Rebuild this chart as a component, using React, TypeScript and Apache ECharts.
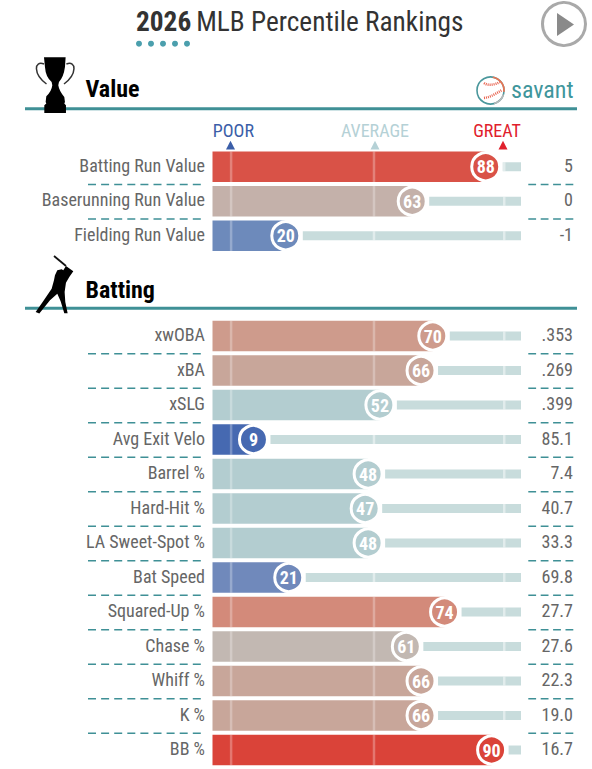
import React, { useEffect, useRef } from "react";
import * as echarts from "echarts";

const valueLabels = ["Batting Run Value", "Baserunning Run Value", "Fielding Run Value"];
const valuePercentiles = [88, 63, 20];
const valueStats = ["5", "0", "-1"];

const battingLabels = ["xwOBA", "xBA", "xSLG", "Avg Exit Velo", "Barrel %", "Hard-Hit %", "LA Sweet-Spot %", "Bat Speed", "Squared-Up %", "Chase %", "Whiff %", "K %", "BB %"];
const battingPercentiles = [70, 66, 52, 9, 48, 47, 48, 21, 74, 61, 66, 66, 90];
const battingStats = [".353", ".269", ".399", "85.1", "7.4", "40.7", "33.3", "69.8", "27.7", "27.6", "22.3", "19.0", "16.7"];

const percentileColors: Record<number, string> = {
  9: "#4669b1", 20: "#6d8abb", 21: "#7089bb", 47: "#b3cdd0", 48: "#b3cdd0", 52: "#b3cdd0",
  61: "#c2b8b2", 63: "#c4b1aa", 66: "#c8a69a", 70: "#ce9b8c", 74: "#d38a7a", 88: "#d95247", 90: "#da4339",
};
const referenceMarks = [1.4, 50, 94.3];

const FONT = '"Roboto Condensed", "Liberation Sans Narrow", Roboto, sans-serif';
const TEAL = "#3f9096";
const ROW = 34.5;
const LEFT = 212.5;
const RIGHT = 521;
const AXIS_MIN = -4.93;
const grids = [
  { top: 149.5, labels: valueLabels, pct: valuePercentiles, stats: valueStats },
  { top: 318.75, labels: battingLabels, pct: battingPercentiles, stats: battingStats },
];

echarts.graphic.registerShape("trophy", echarts.graphic.extendPath(
  "M57 16L122 16L120 45Q116 75 102 90L100 100Q103 118 118 135L120 150L118 155L123 160L123 183L58 183L58 160L64 155L62 150L64 133Q80 118 82 100L80 90Q62 75 60 45Z", {}) as any);
echarts.graphic.registerShape("batter", echarts.graphic.extendPath(
  "M108 42L130 58L118 75L108 92L104 120L106 150L113 184L103 184L92 148L82 125L60 145L28 185L17 180L38 150L65 110L72 85L75 70L82 55L95 52L100 55Z", {}) as any);

function renderRow(params: any, api: any) {
  const v = api.value(0);
  const i = api.value(1);
  const [xEnd, yc] = api.coord([v, i]);
  const cs = params.coordSys;
  const color = percentileColors[v];
  const barH = 30.5;
  const trackH = 9;
  const trackStart = xEnd + 17;
  const kids: any[] = [
    { type: "rect", shape: { x: cs.x, y: yc - barH / 2, width: xEnd - cs.x, height: barH }, style: { fill: color } },
    { type: "rect", shape: { x: trackStart, y: yc - trackH / 2, width: cs.x + cs.width - trackStart, height: trackH }, style: { fill: "#c8dcdc" } },
  ];
  referenceMarks.forEach((m) => {
    const mx = api.coord([m, i])[0];
    if (mx < xEnd) kids.push({ type: "rect", shape: { x: mx - 1.25, y: yc - barH / 2, width: 2.5, height: barH }, style: { fill: "rgba(255,255,255,0.28)" } });
    else if (mx > trackStart) kids.push({ type: "rect", shape: { x: mx - 1.25, y: yc - trackH / 2, width: 2.5, height: trackH }, style: { fill: "rgba(255,255,255,0.45)" } });
  });
  return { type: "group", children: kids };
}

function buildOption() {
  const graphics: any[] = [];
  const txt = (text: string, x: number, y: number, fill: string, fontSize: number, fontWeight: any = 400, align = "left") => ({
    type: "text", x, y, style: { text, fill, fontSize, fontWeight, fontFamily: FONT, align, verticalAlign: "middle" },
  });
  [139, 151, 163, 175, 187].forEach((cx) => graphics.push({ type: "circle", shape: { cx, cy: 43.7, r: 3 }, style: { fill: "#4b9fad" } }));
  graphics.push({ type: "circle", shape: { cx: 564, cy: 24, r: 21.5 }, style: { fill: "#fff", stroke: "#a9a9a9", lineWidth: 3 } });
  graphics.push({ type: "polygon", shape: { points: [[557, 13], [557, 36], [574, 24.5]] }, style: { fill: "#8a8a8a" } });
  // section rules
  [108.7, 308.2].forEach((y) => graphics.push({ type: "rect", shape: { x: 25, y: y - 1.5, width: 552, height: 3 }, style: { fill: TEAL } }));
  // trophy
  graphics.push({ type: "trophy", x: 25, y: 52, scaleX: 1 / 3, scaleY: 1 / 3, style: { fill: "#000" } });
  graphics.push({ type: "bezierCurve", shape: { x1: 44, y1: 64, cpx1: 34, cpy1: 60, cpx2: 33, cpy2: 74, x2: 46.5, y2: 84 }, style: { stroke: "#333", lineWidth: 1.5, fill: "none" } });
  graphics.push({ type: "bezierCurve", shape: { x1: 66.4, y1: 64, cpx1: 76.4, cpy1: 60, cpx2: 77.4, cpy2: 74, x2: 64, y2: 84 }, style: { stroke: "#333", lineWidth: 1.5, fill: "none" } });
  // batter
  graphics.push({ type: "batter", x: 30, y: 252, scaleX: 1 / 3, scaleY: 1 / 3, style: { fill: "#000" } });
  graphics.push({ type: "line", shape: { x1: 54, y1: 256, x2: 66, y2: 266 }, style: { stroke: "#111", lineWidth: 1.8 } });
  graphics.push(txt("Value", 85.5, 88.5, "#000", 24, 700));
  graphics.push(txt("Batting", 85.5, 289.5, "#000", 24, 700));
  // savant mark
  graphics.push({ type: "circle", shape: { cx: 490.5, cy: 90.5, r: 13.5 }, style: { fill: "#fff", stroke: "#4a979c", lineWidth: 1.6 } });
  graphics.push({ type: "arc", shape: { cx: 490.5, cy: 90.5, r: 13.5, startAngle: -1.4, endAngle: 0.1 }, style: { stroke: "#ee7350", lineWidth: 1.6, fill: "none" } });
  graphics.push({ type: "arc", shape: { cx: 490.5, cy: 90.5, r: 13.5, startAngle: 0.3, endAngle: 1.3 }, style: { stroke: "#b9b9b9", lineWidth: 1.6, fill: "none" } });
  graphics.push({ type: "bezierCurve", shape: { x1: 484, y1: 83, cpx1: 488, cpy1: 86, cpx2: 494, cpy2: 85, x2: 500, y2: 82 }, style: { stroke: "#e8604c", lineWidth: 2.5, lineDash: [1, 1], fill: "none" } });
  graphics.push({ type: "bezierCurve", shape: { x1: 484, y1: 98, cpx1: 491, cpy1: 97, cpx2: 497, cpy2: 93, x2: 502, y2: 90 }, style: { stroke: "#e8604c", lineWidth: 2.5, lineDash: [1, 1], fill: "none" } });
  graphics.push(txt("savant", 511, 89.5, "#3f969c", 24));
  // scale captions
  [["POOR", 233.4, "#3b5ea8", 230.5], ["AVERAGE", 375, "#b5d1d6", 375], ["GREAT", 497, "#e0202c", 503]].forEach(([t, x, c, tx]: any) => {
    graphics.push(txt(t, x, 130.5, c, 18, 400, "center"));
    graphics.push({ type: "polygon", shape: { points: [[tx - 4.5, 149.5], [tx + 4.5, 149.5], [tx, 140.7]] }, style: { fill: c } });
  });
  // row dashes
  grids.forEach((g) => {
    for (let i = 1; i < g.labels.length; i++) {
      const y = g.top + i * ROW + 0.5;
      graphics.push({ type: "line", shape: { x1: 88, y1: y, x2: 205, y2: y }, style: { stroke: TEAL, lineWidth: 1.7, lineDash: [8, 5.1] } });
      graphics.push({ type: "line", shape: { x1: 528.3, y1: y, x2: 573.3, y2: y }, style: { stroke: TEAL, lineWidth: 1.7, lineDash: [7.8, 4.6] } });
    }
  });

  const series: any[] = [];
  grids.forEach((g, k) => {
    series.push({
      type: "custom", xAxisIndex: k, yAxisIndex: k * 2, z: 2, clip: false,
      data: g.pct.map((p, i) => [p, i]), renderItem: renderRow, encode: { x: 0, y: 1 },
    });
    series.push({
      type: "scatter", xAxisIndex: k, yAxisIndex: k * 2, z: 3, symbolSize: 28, silent: true,
      data: g.pct.map((p, i) => ({
        value: [p, i],
        itemStyle: { color: percentileColors[p], borderColor: "#fff", borderWidth: 3, opacity: 1 },
      })),
      label: { show: true, position: "inside", formatter: (d: any) => String(d.value[0]), color: "#fff", fontFamily: FONT, fontWeight: 700, fontSize: 18 },
    });
  });

  return {
    animation: false,
    backgroundColor: "#fff",
    title: {
      left: 136, top: 8, padding: 0,
      text: "{b|2026} {n|MLB Percentile Rankings}",
      textStyle: {
        rich: {
          b: { fontFamily: FONT, fontSize: 27.3, fontWeight: 700, color: "#333" },
          n: { fontFamily: FONT, fontSize: 27.3, fontWeight: 400, color: "#333" },
        },
      },
    },
    grid: grids.map((g) => ({ left: LEFT, width: RIGHT - LEFT, top: g.top, height: g.labels.length * ROW })),
    xAxis: grids.map((_, k) => ({ type: "value", gridIndex: k, min: AXIS_MIN, max: 100, show: false })),
    yAxis: grids.flatMap((g, k) => [
      {
        type: "category", gridIndex: k, inverse: true, data: g.labels, position: "left",
        axisLine: { show: false }, axisTick: { show: false }, splitLine: { show: false },
        axisLabel: { margin: 7.5, color: "#666", fontFamily: FONT, fontSize: 18, align: "right", interval: 0, verticalAlign: "bottom", lineHeight: 3 },
      },
      {
        type: "category", gridIndex: k, inverse: true, data: g.stats, position: "right",
        axisLine: { show: false }, axisTick: { show: false }, splitLine: { show: false },
        axisLabel: { margin: 52, color: "#666", fontFamily: FONT, fontSize: 18, align: "right", interval: 0, verticalAlign: "bottom", lineHeight: 3 },
      },
    ]),
    series,
    graphic: { elements: graphics },
  };
}

export default function App() {
  const ref = useRef<HTMLDivElement>(null);
  useEffect(() => {
    document.body.style.margin = "0";
    const chart = echarts.init(ref.current!, null, { renderer: "svg" });
    chart.setOption(buildOption() as any);
    return () => chart.dispose();
  }, []);
  return <div ref={ref} style={{ width: 592, height: 769 }} />;
}
